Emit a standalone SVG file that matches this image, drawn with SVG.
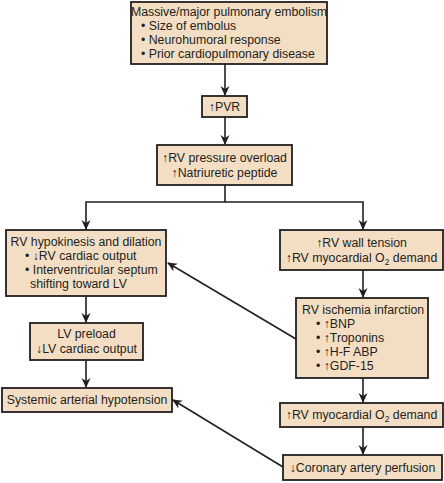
<svg xmlns="http://www.w3.org/2000/svg" width="444" height="483" viewBox="0 0 444 483">
<style>
.box{fill:#f3dec4;stroke:#231f20;stroke-width:1.8}
text{font-family:"Liberation Sans",Arial,sans-serif;font-size:12.3px;fill:#231f20}
.c{text-anchor:middle}
.ln{stroke:#231f20;stroke-width:1.6;fill:none}
.sub{font-size:8.5px}
</style>
<defs>
<marker id="ah" markerWidth="10" markerHeight="10" refX="9" refY="5" orient="auto" markerUnits="userSpaceOnUse">
<path d="M0,0.5 L10,5 L0,9.5 L3,5 Z" fill="#231f20"/>
</marker>
</defs>
<g id="connectors">
<line class="ln" x1="225" y1="64" x2="225" y2="95" marker-end="url(#ah)"/>
<line class="ln" x1="225" y1="117" x2="225" y2="144" marker-end="url(#ah)"/>
<polyline class="ln" points="225,185 225,202 86,202 86,229" marker-end="url(#ah)"/>
<polyline class="ln" points="225,202 363,202 363,229" marker-end="url(#ah)"/>
<line class="ln" x1="363" y1="270" x2="363" y2="297" marker-end="url(#ah)"/>
<line class="ln" x1="86" y1="296" x2="86" y2="322" marker-end="url(#ah)"/>
<line class="ln" x1="86" y1="360" x2="86" y2="387" marker-end="url(#ah)"/>
<line class="ln" x1="363" y1="378" x2="363" y2="402" marker-end="url(#ah)"/>
<line class="ln" x1="363" y1="427" x2="363" y2="454" marker-end="url(#ah)"/>
<line class="ln" x1="296" y1="339" x2="168" y2="263" marker-end="url(#ah)"/>
<line class="ln" x1="283" y1="467" x2="173" y2="400" marker-end="url(#ah)"/>
</g>
<g id="n1">
<rect class="box" x="131" y="2" width="196" height="62"/>
<text class="c" x="229" y="16">Massive/major pulmonary embolism</text>
<text x="141" y="30">• Size of embolus</text>
<text x="141" y="44">• Neurohumoral response</text>
<text x="141" y="58">• Prior cardiopulmonary disease</text>
</g>
<g id="n2">
<rect class="box" x="202" y="96" width="45" height="21"/>
<text class="c" x="224.5" y="111">↑PVR</text>
</g>
<g id="n3">
<rect class="box" x="157" y="145" width="135" height="40"/>
<text class="c" x="224.5" y="162">↑RV pressure overload</text>
<text class="c" x="224.5" y="177">↑Natriuretic peptide</text>
</g>
<g id="n4">
<rect class="box" x="6" y="230" width="160" height="66"/>
<text class="c" x="86" y="246">RV hypokinesis and dilation</text>
<text x="25" y="260">• ↓RV cardiac output</text>
<text x="25" y="274">• Interventricular septum</text>
<text x="30" y="288">shifting toward LV</text>
</g>
<g id="n5">
<rect class="box" x="280" y="230" width="163" height="40"/>
<text class="c" x="361.5" y="247">↑RV wall tension</text>
<text class="c" x="361.5" y="262">↑RV myocardial O<tspan class="sub" dy="3">2</tspan><tspan dy="-3"> demand</tspan></text>
</g>
<g id="n6">
<rect class="box" x="296" y="298" width="132" height="80"/>
<text x="302" y="314">RV ischemia infarction</text>
<text x="316" y="328">• ↑BNP</text>
<text x="316" y="342">• ↑Troponins</text>
<text x="316" y="356">• ↑H-F ABP</text>
<text x="316" y="370">• ↑GDF-15</text>
</g>
<g id="n7">
<rect class="box" x="30" y="323" width="113" height="37"/>
<text class="c" x="86.5" y="338">LV preload</text>
<text class="c" x="86.5" y="353">↓LV cardiac output</text>
</g>
<g id="n8">
<rect class="box" x="2" y="388" width="170" height="24"/>
<text class="c" x="87" y="404">Systemic arterial hypotension</text>
</g>
<g id="n9">
<rect class="box" x="280" y="403" width="163" height="24"/>
<text class="c" x="361.5" y="419">↑RV myocardial O<tspan class="sub" dy="3">2</tspan><tspan dy="-3"> demand</tspan></text>
</g>
<g id="n10">
<rect class="box" x="283" y="455" width="159" height="25"/>
<text class="c" x="362.5" y="472">↓Coronary artery perfusion</text>
</g>
</svg>
